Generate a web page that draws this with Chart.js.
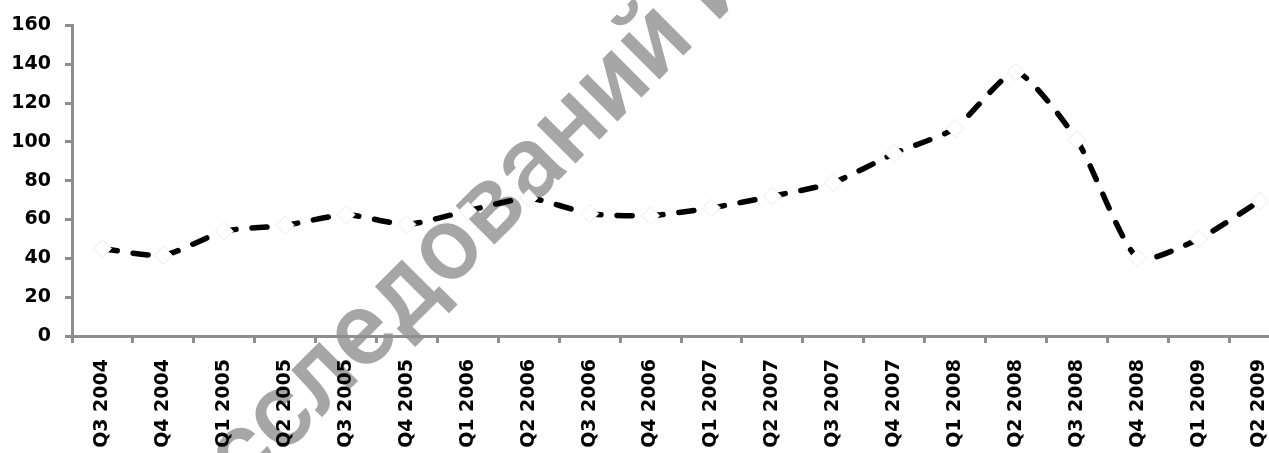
<!DOCTYPE html>
<html>
<head>
<meta charset="utf-8">
<script src="https://cdn.jsdelivr.net/npm/chart.js@4/dist/chart.umd.min.js"></script>
<style>
  html, body { margin: 0; padding: 0; background: #ffffff; overflow: hidden; }
  #wrap { width: 1300px; height: 453px; }
</style>
</head>
<body>
<div id="wrap"><canvas id="chart" width="1300" height="453"></canvas></div>
<script>
// Quarterly categories
const quarters = [
  'Q3 2004', 'Q4 2004', 'Q1 2005', 'Q2 2005', 'Q3 2005', 'Q4 2005',
  'Q1 2006', 'Q2 2006', 'Q3 2006', 'Q4 2006', 'Q1 2007', 'Q2 2007',
  'Q3 2007', 'Q4 2007', 'Q1 2008', 'Q2 2008', 'Q3 2008', 'Q4 2008',
  'Q1 2009', 'Q2 2009'
];

// Index values per quarter
const indexValues = [
  45, 41.5, 54, 57, 62.5, 57.5,
  64.5, 71, 63, 62, 66, 72,
  79, 94, 107, 136, 101, 40,
  50, 69.5
];

// Value axis range
const yMin = 0;
const yMax = 160;
const yStep = 20;

// Background stamp text
const WATERMARK = 'исследований и';

const axisGray = '#8e8e8e';
const tickFont = { family: '"DejaVu Sans", Verdana, sans-serif', size: 19, weight: 'bold' };

// Paints a white page and the diagonal grey stamp behind the chart.
// The stamp is positioned by the centre of its third glyph.
const stampPlugin = {
  id: 'stamp',
  beforeDraw(chart) {
    const ctx = chart.ctx;
    const size = 104;
    ctx.save();
    ctx.fillStyle = '#ffffff';
    ctx.fillRect(0, 0, chart.width, chart.height);
    ctx.font = '500 ' + size + 'px Roboto, "Open Sans", sans-serif';
    const angle = -45 * Math.PI / 180;
    const d = { x: Math.cos(angle), y: Math.sin(angle) };
    const u = { x: Math.sin(angle), y: -Math.cos(angle) };
    const before = ctx.measureText(WATERMARK.slice(0, 2)).width;
    const glyph = ctx.measureText(WATERMARK.charAt(2)).width;
    const xh = size * 0.53;
    const along = before + glyph / 2;
    const cx = 282, cy = 418;
    const px = cx - d.x * along - u.x * xh / 2;
    const py = cy - d.y * along - u.y * xh / 2;
    ctx.translate(px, py);
    ctx.rotate(angle);
    ctx.fillStyle = '#a6a6a6';
    ctx.textAlign = 'left';
    ctx.textBaseline = 'alphabetic';
    ctx.fillText(WATERMARK, 0, 0);
    ctx.restore();
  }
};

function draw() {
  new Chart(document.getElementById('chart'), {
    type: 'line',
    data: {
      labels: quarters,
      datasets: [{
        data: indexValues,
        borderColor: '#000000',
        borderWidth: 5.5,
        borderDash: [15, 16],
        borderCapStyle: 'round',
        tension: 0.2,
        fill: false,
        pointStyle: 'rectRot',
        pointRadius: 9,
        pointBackgroundColor: '#ffffff',
        pointBorderColor: '#ececec',
        pointBorderWidth: 1
      }]
    },
    options: {
      responsive: false,
      devicePixelRatio: 1,
      animation: false,
      layout: { padding: { top: 23, right: 6, left: 0, bottom: 0 } },
      plugins: {
        legend: { display: false },
        tooltip: { enabled: false }
      },
      scales: {
        x: {
          offset: true,
          grid: {
            offset: true,
            drawOnChartArea: false,
            drawTicks: true,
            tickLength: 7,
            tickWidth: 3,
            tickColor: axisGray
          },
          border: { display: true, color: axisGray, width: 3 },
          ticks: {
            autoSkip: false,
            minRotation: 90,
            maxRotation: 90,
            padding: 16,
            color: '#000000',
            font: tickFont
          },
          afterFit(scale) { scale.height = 117; }
        },
        y: {
          min: yMin,
          max: yMax,
          grid: {
            drawOnChartArea: false,
            drawTicks: true,
            tickLength: 7,
            tickWidth: 3,
            tickColor: axisGray
          },
          border: { display: true, color: axisGray, width: 3 },
          ticks: {
            stepSize: yStep,
            padding: 14,
            color: '#000000',
            font: tickFont
          },
          afterFit(scale) { scale.width = 72; }
        }
      }
    },
    plugins: [stampPlugin]
  });
}

Promise.all([
  document.fonts.load('bold 19px "DejaVu Sans"'),
  document.fonts.load('500 104px Roboto')
]).then(draw, draw);
</script>
</body>
</html>
